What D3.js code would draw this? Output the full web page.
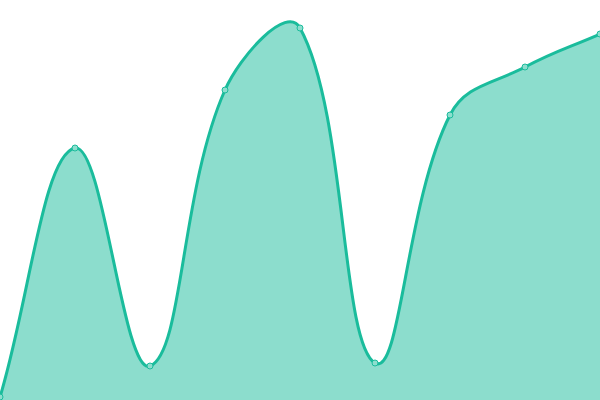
<!DOCTYPE html>
<html><head><meta charset="utf-8">
<script src="https://cdn.jsdelivr.net/npm/d3@7"></script>
<style>html,body{margin:0;padding:0;background:#fff;}svg{display:block;}</style>
</head><body>
<script>
const categories = ["A","B","C","D","E","F","G","H","I"];
const values = [3, 252, 34, 310, 372, 37, 285, 333, 366];

const W = 600, H = 400;
const svg = d3.select("body").append("svg").attr("width", W).attr("height", H);
const x = d3.scalePoint().domain(categories).range([0, W]);
const y = d3.scaleLinear().domain([0, 400]).range([H, 0]);
const data = categories.map((c, i) => ({c, v: values[i]}));

// Spline curve with tension 0.4 (distance-weighted control points)
class SplineCurve {
  constructor(context, t) { this._context = context; this._t = t; }
  areaStart() { this._line = 0; }
  areaEnd() { this._line = NaN; }
  lineStart() { this._pts = []; }
  point(px, py) { this._pts.push([+px, +py]); }
  lineEnd() {
    const p = this._pts, n = p.length, c = this._context, t = this._t;
    if (n) {
      this._line ? c.lineTo(p[0][0], p[0][1]) : c.moveTo(p[0][0], p[0][1]);
      const cpPrev = [], cpNext = [];
      const clamp = (v, lo, hi) => Math.max(lo, Math.min(hi, v));
      for (let i = 0; i < n; i++) {
        const cur = p[i], prev = p[i - 1] || cur, next = p[i + 1] || cur;
        const d01 = Math.hypot(cur[0] - prev[0], cur[1] - prev[1]);
        const d12 = Math.hypot(next[0] - cur[0], next[1] - cur[1]);
        let s01 = d01 / (d01 + d12), s12 = d12 / (d01 + d12);
        if (!isFinite(s01)) s01 = 0;
        if (!isFinite(s12)) s12 = 0;
        const fa = t * s01, fb = t * s12;
        cpPrev.push([clamp(cur[0] - fa * (next[0] - prev[0]), 0, W), clamp(cur[1] - fa * (next[1] - prev[1]), 0, H)]);
        cpNext.push([clamp(cur[0] + fb * (next[0] - prev[0]), 0, W), clamp(cur[1] + fb * (next[1] - prev[1]), 0, H)]);
      }
      for (let i = 0; i < n - 1; i++) {
        c.bezierCurveTo(cpNext[i][0], cpNext[i][1], cpPrev[i + 1][0], cpPrev[i + 1][1], p[i + 1][0], p[i + 1][1]);
      }
    }
    if (this._line || (this._line !== 0 && n === 1)) c.closePath();
    this._line = 1 - this._line;
  }
}
const curve = ctx => new SplineCurve(ctx, 0.4);

svg.append("path").datum(data)
  .attr("d", d3.area().x(d => x(d.c)).y0(H).y1(d => y(d.v)).curve(curve))
  .attr("fill", "#1abc9c").attr("fill-opacity", 0.5);
svg.append("path").datum(data)
  .attr("d", d3.line().x(d => x(d.c)).y(d => y(d.v)).curve(curve))
  .attr("fill", "none").attr("stroke", "#1abc9c").attr("stroke-width", 3);
svg.selectAll("circle").data(data).join("circle")
  .attr("cx", d => x(d.c)).attr("cy", d => y(d.v)).attr("r", 3)
  .attr("fill", "#8ddece").attr("stroke", "#1abc9c").attr("stroke-width", 1);
</script>
</body></html>
